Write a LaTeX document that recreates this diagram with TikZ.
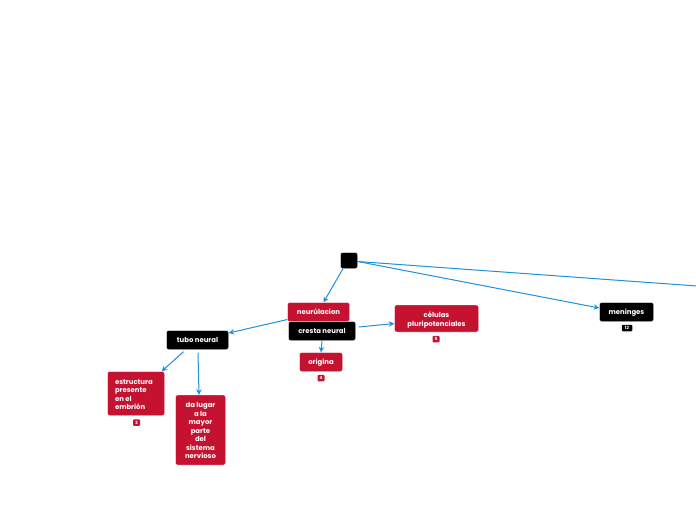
\documentclass[tikz,border=0pt]{standalone}
\usepackage{fontspec}
\setmainfont{Poppins}
\usetikzlibrary{arrows.meta}
\definecolor{mred}{HTML}{C41230}
\definecolor{mblue}{HTML}{1E90DC}
\newcommand{\lowtext}[3]{\raisebox{-#1}[\height][\depth]{\parbox{#2}{#3}}}
\begin{document}
\begin{tikzpicture}[x=1pt,y=-1pt,
  box/.style={rectangle, rounded corners=2pt, draw=white, line width=0.4pt, font=\bfseries\fontsize{6.9}{8.5}\selectfont, text=white, align=center, inner sep=0pt},
  one/.style={text height=6.2pt, text depth=1pt},
  redbox/.style={box, fill=mred},
  blackbox/.style={box, fill=black},
  badge/.style={rectangle, rounded corners=1pt, inner sep=0pt, minimum height=6.5pt, font=\bfseries\fontsize{4.3}{4.3}\selectfont, text=white},
  conn/.style={draw=mblue, line width=1pt, -{Stealth[length=5.5pt,width=5.5pt]}}
]
\useasboundingbox (0,0) rectangle (696,520);
\fill[white] (0,0) rectangle (696,520);

\node[blackbox, minimum width=17pt, minimum height=16pt] (root) at (349,260.5) {};
\node[redbox, one, minimum width=62pt, minimum height=19pt] (neu) at (318.5,312) {neurúlacion};
\node[blackbox, one, minimum width=67pt, minimum height=19pt] (cresta) at (322,331) {cresta neural};
\node[blackbox, one, minimum width=62pt, minimum height=19pt] (tubo) at (197.5,340) {tubo neural};
\node[redbox, one, minimum width=43pt, minimum height=19pt] (orig) at (321,362) {origina};
\node[redbox, minimum width=84pt, minimum height=27pt] (cel) at (436.5,318.5) {\lowtext{1.5pt}{75pt}{\centering células\\pluripotenciales}};
\node[blackbox, one, minimum width=54pt, minimum height=19pt] (men) at (626.5,312) {meninges};
\node[redbox, minimum width=57pt, minimum height=44pt] (est) at (136,393.5) {\lowtext{1.3pt}{42pt}{\raggedright estructura\\presente\\en el\\embrión}};
\node[redbox, minimum width=50pt, minimum height=70pt] (da) at (200.5,430) {\lowtext{0.7pt}{45pt}{\centering da lugar\\a la\\mayor\\parte\\del\\sistema\\nervioso}};

\node[badge, fill=mred, minimum width=7pt] (b2) at (136.5,422.5) {2};
\node[badge, fill=mred, minimum width=7pt] (b4) at (321,378) {4};
\node[badge, fill=mred, minimum width=7pt] (b5) at (436,339) {5};
\node[badge, fill=black, minimum width=10.5pt] (b12) at (627,328) {12};

\coordinate (off) at (697,286);

\draw[conn] ([xshift=-6pt]root.south) -- ([xshift=5pt]neu.north);
\draw[conn] ([yshift=-1pt]root.east) -- ([yshift=4pt]men.west);
\draw[draw=mblue, line width=1pt] ([yshift=-1pt]root.east) -- (off);
\draw[conn] ([yshift=-7.5pt]neu.west) -- ([yshift=7pt]tubo.east);
\draw[conn] ([xshift=3pt,yshift=4pt]cresta.east) -- ([yshift=-5pt]cel.west);
\draw[conn] (cresta.south) -- (orig.north);
\draw[conn] ([xshift=-14pt,yshift=-2pt]tubo.south) -- ([xshift=-3pt]est.north east);
\draw[conn] ([xshift=0.5pt,yshift=-3pt]tubo.south) -- ([xshift=-1.5pt]da.north);
\end{tikzpicture}
\end{document}
